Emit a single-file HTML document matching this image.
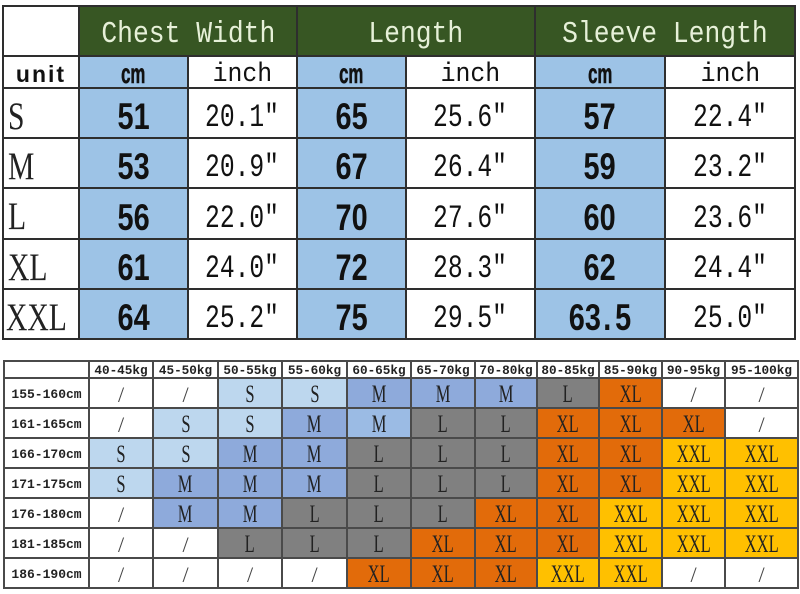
<!DOCTYPE html>
<html><head><meta charset="utf-8">
<style>
html,body{margin:0;padding:0;background:#fff;}
#wrap{position:relative;width:800px;height:594px;overflow:hidden;background:#fff;}
.c{position:absolute;display:flex;align-items:center;justify-content:center;box-sizing:border-box;overflow:visible;white-space:nowrap;}
.l{position:absolute;background:#2e2e2e;}
.b{position:absolute;background:#4a4a4a;}
.s{display:inline-block;}
.hd{font-family:"Liberation Mono",monospace;font-size:31px;color:#e6f0d8;padding-top:6px;}
.hd .s{transform:scaleX(0.85);}
.cm{font-family:"Liberation Sans",sans-serif;font-weight:bold;font-size:28px;color:#111;padding-top:4px;-webkit-text-stroke:0.6px #111;}
.cm .s{transform:scaleX(0.6);}
.in{font-family:"Liberation Mono",monospace;font-size:27px;color:#111;padding-top:6px;}
.in .s{transform:scaleX(0.92);}
.nm{font-family:"Liberation Sans",sans-serif;font-weight:bold;font-size:37px;color:#111;padding-top:8px;}
.nm .s{transform:scaleX(0.78);}
.iv{font-family:"Liberation Mono",monospace;font-size:32px;color:#111;padding-top:9px;}
.iv .s{transform:scaleX(0.77);}
.sz{font-family:"Liberation Serif",serif;font-size:39px;color:#222;justify-content:flex-start;padding-left:5px;padding-top:6px;}
.sz .s{transform:scaleX(0.76);transform-origin:left center;}
.bh{font-family:"Liberation Mono",monospace;font-weight:bold;font-size:12.7px;color:#222;padding-top:1px;}
.rl{font-family:"Liberation Mono",monospace;font-weight:bold;font-size:13px;color:#222;padding-top:2px;}
.cv{font-family:"Liberation Serif",serif;font-size:25px;color:#222;padding-top:4px;}
.cv .s{transform:scaleX(0.66);}
.sl{font-family:"Liberation Serif",serif;font-size:22px;color:#444;padding-top:3px;}
</style></head><body><div id="wrap">

<!-- TOP TABLE backgrounds -->
<div class="c" style="left:79px;top:6px;width:716px;height:50px;background:#375623;"></div>
<div class="c" style="left:79px;top:56px;width:109px;height:283px;background:#9dc3e6;"></div>
<div class="c" style="left:297px;top:56px;width:109px;height:283px;background:#9dc3e6;"></div>
<div class="c" style="left:535px;top:56px;width:130px;height:283px;background:#9dc3e6;"></div>

<!-- header text -->
<div class="c hd" style="left:79px;top:6px;width:218px;height:50px;"><span class="s">Chest Width</span></div>
<div class="c hd" style="left:297px;top:6px;width:238px;height:50px;"><span class="s">Length</span></div>
<div class="c hd" style="left:535px;top:6px;width:260px;height:50px;"><span class="s">Sleeve Length</span></div>

<!-- unit row -->
<div class="c" style="left:3px;top:56px;width:76px;height:32px;font-family:'Liberation Sans',sans-serif;font-weight:bold;font-size:23px;letter-spacing:2px;color:#111;padding-top:4px;">unit</div>
<div class="c cm" style="left:79px;top:56px;width:109px;height:32px;"><span class="s">cm</span></div>
<div class="c in" style="left:188px;top:56px;width:109px;height:32px;"><span class="s">inch</span></div>
<div class="c cm" style="left:297px;top:56px;width:109px;height:32px;"><span class="s">cm</span></div>
<div class="c in" style="left:406px;top:56px;width:129px;height:32px;"><span class="s">inch</span></div>
<div class="c cm" style="left:535px;top:56px;width:130px;height:32px;"><span class="s">cm</span></div>
<div class="c in" style="left:665px;top:56px;width:130px;height:32px;"><span class="s">inch</span></div>

<!-- data rows -->
<div class="c sz" style="left:3px;top:88px;width:76px;height:50px;"><span class="s">S</span></div>
<div class="c nm" style="left:79px;top:88px;width:109px;height:50px;"><span class="s">51</span></div>
<div class="c iv" style="left:188px;top:88px;width:109px;height:50px;"><span class="s">20.1"</span></div>
<div class="c nm" style="left:297px;top:88px;width:109px;height:50px;"><span class="s">65</span></div>
<div class="c iv" style="left:406px;top:88px;width:129px;height:50px;"><span class="s">25.6"</span></div>
<div class="c nm" style="left:535px;top:88px;width:130px;height:50px;"><span class="s">57</span></div>
<div class="c iv" style="left:665px;top:88px;width:130px;height:50px;"><span class="s">22.4"</span></div>

<div class="c sz" style="left:3px;top:138px;width:76px;height:50px;"><span class="s">M</span></div>
<div class="c nm" style="left:79px;top:138px;width:109px;height:50px;"><span class="s">53</span></div>
<div class="c iv" style="left:188px;top:138px;width:109px;height:50px;"><span class="s">20.9"</span></div>
<div class="c nm" style="left:297px;top:138px;width:109px;height:50px;"><span class="s">67</span></div>
<div class="c iv" style="left:406px;top:138px;width:129px;height:50px;"><span class="s">26.4"</span></div>
<div class="c nm" style="left:535px;top:138px;width:130px;height:50px;"><span class="s">59</span></div>
<div class="c iv" style="left:665px;top:138px;width:130px;height:50px;"><span class="s">23.2"</span></div>

<div class="c sz" style="left:3px;top:188px;width:76px;height:51px;"><span class="s">L</span></div>
<div class="c nm" style="left:79px;top:188px;width:109px;height:51px;"><span class="s">56</span></div>
<div class="c iv" style="left:188px;top:188px;width:109px;height:51px;"><span class="s">22.0"</span></div>
<div class="c nm" style="left:297px;top:188px;width:109px;height:51px;"><span class="s">70</span></div>
<div class="c iv" style="left:406px;top:188px;width:129px;height:51px;"><span class="s">27.6"</span></div>
<div class="c nm" style="left:535px;top:188px;width:130px;height:51px;"><span class="s">60</span></div>
<div class="c iv" style="left:665px;top:188px;width:130px;height:51px;"><span class="s">23.6"</span></div>

<div class="c sz" style="left:3px;top:239px;width:76px;height:50px;"><span class="s">XL</span></div>
<div class="c nm" style="left:79px;top:239px;width:109px;height:50px;"><span class="s">61</span></div>
<div class="c iv" style="left:188px;top:239px;width:109px;height:50px;"><span class="s">24.0"</span></div>
<div class="c nm" style="left:297px;top:239px;width:109px;height:50px;"><span class="s">72</span></div>
<div class="c iv" style="left:406px;top:239px;width:129px;height:50px;"><span class="s">28.3"</span></div>
<div class="c nm" style="left:535px;top:239px;width:130px;height:50px;"><span class="s">62</span></div>
<div class="c iv" style="left:665px;top:239px;width:130px;height:50px;"><span class="s">24.4"</span></div>

<div class="c sz" style="left:3px;top:289px;width:76px;height:50px;padding-left:3px;"><span class="s">XXL</span></div>
<div class="c nm" style="left:79px;top:289px;width:109px;height:50px;"><span class="s">64</span></div>
<div class="c iv" style="left:188px;top:289px;width:109px;height:50px;"><span class="s">25.2"</span></div>
<div class="c nm" style="left:297px;top:289px;width:109px;height:50px;"><span class="s">75</span></div>
<div class="c iv" style="left:406px;top:289px;width:129px;height:50px;"><span class="s">29.5"</span></div>
<div class="c nm" style="left:535px;top:289px;width:130px;height:50px;"><span class="s">63<span style="margin:0 5px 0 3px;">.</span>5</span></div>
<div class="c iv" style="left:665px;top:289px;width:130px;height:50px;"><span class="s">25.0"</span></div>

<!-- top grid lines: horizontals -->
<div class="l" style="left:3px;top:5px;width:793px;height:2px;"></div>
<div class="l" style="left:3px;top:55px;width:793px;height:2px;"></div>
<div class="l" style="left:3px;top:87px;width:793px;height:2px;"></div>
<div class="l" style="left:3px;top:137px;width:793px;height:2px;"></div>
<div class="l" style="left:3px;top:187px;width:793px;height:2px;"></div>
<div class="l" style="left:3px;top:238px;width:793px;height:2px;"></div>
<div class="l" style="left:3px;top:288px;width:793px;height:2px;"></div>
<div class="l" style="left:3px;top:338px;width:793px;height:2px;"></div>
<!-- verticals -->
<div class="l" style="left:2px;top:5px;width:2px;height:335px;"></div>
<div class="l" style="left:78px;top:5px;width:2px;height:335px;"></div>
<div class="l" style="left:187px;top:56px;width:2px;height:284px;"></div>
<div class="l" style="left:296px;top:5px;width:2px;height:335px;"></div>
<div class="l" style="left:405px;top:56px;width:2px;height:284px;"></div>
<div class="l" style="left:534px;top:5px;width:2px;height:335px;"></div>
<div class="l" style="left:664px;top:56px;width:2px;height:284px;"></div>
<div class="l" style="left:794px;top:5px;width:2px;height:335px;"></div>

<!-- BOTTOM TABLE -->
<!-- header -->
<div class="c bh" style="left:89px;top:361px;width:64px;height:17px;">40-45kg</div>
<div class="c bh" style="left:153px;top:361px;width:65px;height:17px;">45-50kg</div>
<div class="c bh" style="left:218px;top:361px;width:64px;height:17px;">50-55kg</div>
<div class="c bh" style="left:282px;top:361px;width:65px;height:17px;">55-60kg</div>
<div class="c bh" style="left:347px;top:361px;width:64px;height:17px;">60-65kg</div>
<div class="c bh" style="left:411px;top:361px;width:64px;height:17px;">65-70kg</div>
<div class="c bh" style="left:475px;top:361px;width:62px;height:17px;">70-80kg</div>
<div class="c bh" style="left:537px;top:361px;width:62px;height:17px;">80-85kg</div>
<div class="c bh" style="left:599px;top:361px;width:63px;height:17px;">85-90kg</div>
<div class="c bh" style="left:662px;top:361px;width:63px;height:17px;">90-95kg</div>
<div class="c bh" style="left:725px;top:361px;width:73px;height:17px;">95-100kg</div>

<!-- row labels -->
<div class="c rl" style="left:4px;top:378px;width:85px;height:30px;">155-160cm</div>
<div class="c rl" style="left:4px;top:408px;width:85px;height:30px;">161-165cm</div>
<div class="c rl" style="left:4px;top:438px;width:85px;height:30px;">166-170cm</div>
<div class="c rl" style="left:4px;top:468px;width:85px;height:30px;">171-175cm</div>
<div class="c rl" style="left:4px;top:498px;width:85px;height:30px;">176-180cm</div>
<div class="c rl" style="left:4px;top:528px;width:85px;height:30px;">181-185cm</div>
<div class="c rl" style="left:4px;top:558px;width:85px;height:30px;">186-190cm</div>

<!-- row 155-160 -->
<div class="c sl" style="left:89px;top:378px;width:64px;height:30px;">/</div>
<div class="c sl" style="left:153px;top:378px;width:65px;height:30px;">/</div>
<div class="c cv" style="left:218px;top:378px;width:64px;height:30px;background:#bdd7ee;"><span class="s">S</span></div>
<div class="c cv" style="left:282px;top:378px;width:65px;height:30px;background:#bdd7ee;"><span class="s">S</span></div>
<div class="c cv" style="left:347px;top:378px;width:64px;height:30px;background:#8eaadb;"><span class="s">M</span></div>
<div class="c cv" style="left:411px;top:378px;width:64px;height:30px;background:#8eaadb;"><span class="s">M</span></div>
<div class="c cv" style="left:475px;top:378px;width:62px;height:30px;background:#8eaadb;"><span class="s">M</span></div>
<div class="c cv" style="left:537px;top:378px;width:62px;height:30px;background:#808080;"><span class="s">L</span></div>
<div class="c cv" style="left:599px;top:378px;width:63px;height:30px;background:#e26b0a;"><span class="s">XL</span></div>
<div class="c sl" style="left:662px;top:378px;width:63px;height:30px;">/</div>
<div class="c sl" style="left:725px;top:378px;width:73px;height:30px;">/</div>

<!-- row 161-165 -->
<div class="c sl" style="left:89px;top:408px;width:64px;height:30px;">/</div>
<div class="c cv" style="left:153px;top:408px;width:65px;height:30px;background:#bdd7ee;"><span class="s">S</span></div>
<div class="c cv" style="left:218px;top:408px;width:64px;height:30px;background:#bdd7ee;"><span class="s">S</span></div>
<div class="c cv" style="left:282px;top:408px;width:65px;height:30px;background:#8eaadb;"><span class="s">M</span></div>
<div class="c cv" style="left:347px;top:408px;width:64px;height:30px;background:#9bbbe4;"><span class="s">M</span></div>
<div class="c cv" style="left:411px;top:408px;width:64px;height:30px;background:#808080;"><span class="s">L</span></div>
<div class="c cv" style="left:475px;top:408px;width:62px;height:30px;background:#808080;"><span class="s">L</span></div>
<div class="c cv" style="left:537px;top:408px;width:62px;height:30px;background:#e26b0a;"><span class="s">XL</span></div>
<div class="c cv" style="left:599px;top:408px;width:63px;height:30px;background:#e26b0a;"><span class="s">XL</span></div>
<div class="c cv" style="left:662px;top:408px;width:63px;height:30px;background:#e26b0a;"><span class="s">XL</span></div>
<div class="c sl" style="left:725px;top:408px;width:73px;height:30px;">/</div>

<!-- row 166-170 -->
<div class="c cv" style="left:89px;top:438px;width:64px;height:30px;background:#bdd7ee;"><span class="s">S</span></div>
<div class="c cv" style="left:153px;top:438px;width:65px;height:30px;background:#bdd7ee;"><span class="s">S</span></div>
<div class="c cv" style="left:218px;top:438px;width:64px;height:30px;background:#8eaadb;"><span class="s">M</span></div>
<div class="c cv" style="left:282px;top:438px;width:65px;height:30px;background:#8eaadb;"><span class="s">M</span></div>
<div class="c cv" style="left:347px;top:438px;width:64px;height:30px;background:#808080;"><span class="s">L</span></div>
<div class="c cv" style="left:411px;top:438px;width:64px;height:30px;background:#808080;"><span class="s">L</span></div>
<div class="c cv" style="left:475px;top:438px;width:62px;height:30px;background:#808080;"><span class="s">L</span></div>
<div class="c cv" style="left:537px;top:438px;width:62px;height:30px;background:#e26b0a;"><span class="s">XL</span></div>
<div class="c cv" style="left:599px;top:438px;width:63px;height:30px;background:#e26b0a;"><span class="s">XL</span></div>
<div class="c cv" style="left:662px;top:438px;width:63px;height:30px;background:#ffc000;"><span class="s">XXL</span></div>
<div class="c cv" style="left:725px;top:438px;width:73px;height:30px;background:#ffc000;"><span class="s">XXL</span></div>

<!-- row 171-175 -->
<div class="c cv" style="left:89px;top:468px;width:64px;height:30px;background:#bdd7ee;"><span class="s">S</span></div>
<div class="c cv" style="left:153px;top:468px;width:65px;height:30px;background:#8eaadb;"><span class="s">M</span></div>
<div class="c cv" style="left:218px;top:468px;width:64px;height:30px;background:#8eaadb;"><span class="s">M</span></div>
<div class="c cv" style="left:282px;top:468px;width:65px;height:30px;background:#8eaadb;"><span class="s">M</span></div>
<div class="c cv" style="left:347px;top:468px;width:64px;height:30px;background:#808080;"><span class="s">L</span></div>
<div class="c cv" style="left:411px;top:468px;width:64px;height:30px;background:#808080;"><span class="s">L</span></div>
<div class="c cv" style="left:475px;top:468px;width:62px;height:30px;background:#808080;"><span class="s">L</span></div>
<div class="c cv" style="left:537px;top:468px;width:62px;height:30px;background:#e26b0a;"><span class="s">XL</span></div>
<div class="c cv" style="left:599px;top:468px;width:63px;height:30px;background:#e26b0a;"><span class="s">XL</span></div>
<div class="c cv" style="left:662px;top:468px;width:63px;height:30px;background:#ffc000;"><span class="s">XXL</span></div>
<div class="c cv" style="left:725px;top:468px;width:73px;height:30px;background:#ffc000;"><span class="s">XXL</span></div>

<!-- row 176-180 -->
<div class="c sl" style="left:89px;top:498px;width:64px;height:30px;">/</div>
<div class="c cv" style="left:153px;top:498px;width:65px;height:30px;background:#8eaadb;"><span class="s">M</span></div>
<div class="c cv" style="left:218px;top:498px;width:64px;height:30px;background:#8eaadb;"><span class="s">M</span></div>
<div class="c cv" style="left:282px;top:498px;width:65px;height:30px;background:#808080;"><span class="s">L</span></div>
<div class="c cv" style="left:347px;top:498px;width:64px;height:30px;background:#808080;"><span class="s">L</span></div>
<div class="c cv" style="left:411px;top:498px;width:64px;height:30px;background:#808080;"><span class="s">L</span></div>
<div class="c cv" style="left:475px;top:498px;width:62px;height:30px;background:#e26b0a;"><span class="s">XL</span></div>
<div class="c cv" style="left:537px;top:498px;width:62px;height:30px;background:#e26b0a;"><span class="s">XL</span></div>
<div class="c cv" style="left:599px;top:498px;width:63px;height:30px;background:#ffc000;"><span class="s">XXL</span></div>
<div class="c cv" style="left:662px;top:498px;width:63px;height:30px;background:#ffc000;"><span class="s">XXL</span></div>
<div class="c cv" style="left:725px;top:498px;width:73px;height:30px;background:#ffc000;"><span class="s">XXL</span></div>

<!-- row 181-185 -->
<div class="c sl" style="left:89px;top:528px;width:64px;height:30px;">/</div>
<div class="c sl" style="left:153px;top:528px;width:65px;height:30px;">/</div>
<div class="c cv" style="left:218px;top:528px;width:64px;height:30px;background:#808080;"><span class="s">L</span></div>
<div class="c cv" style="left:282px;top:528px;width:65px;height:30px;background:#808080;"><span class="s">L</span></div>
<div class="c cv" style="left:347px;top:528px;width:64px;height:30px;background:#808080;"><span class="s">L</span></div>
<div class="c cv" style="left:411px;top:528px;width:64px;height:30px;background:#e26b0a;"><span class="s">XL</span></div>
<div class="c cv" style="left:475px;top:528px;width:62px;height:30px;background:#e26b0a;"><span class="s">XL</span></div>
<div class="c cv" style="left:537px;top:528px;width:62px;height:30px;background:#e26b0a;"><span class="s">XL</span></div>
<div class="c cv" style="left:599px;top:528px;width:63px;height:30px;background:#ffc000;"><span class="s">XXL</span></div>
<div class="c cv" style="left:662px;top:528px;width:63px;height:30px;background:#ffc000;"><span class="s">XXL</span></div>
<div class="c cv" style="left:725px;top:528px;width:73px;height:30px;background:#ffc000;"><span class="s">XXL</span></div>

<!-- row 186-190 -->
<div class="c sl" style="left:89px;top:558px;width:64px;height:30px;">/</div>
<div class="c sl" style="left:153px;top:558px;width:65px;height:30px;">/</div>
<div class="c sl" style="left:218px;top:558px;width:64px;height:30px;">/</div>
<div class="c sl" style="left:282px;top:558px;width:65px;height:30px;">/</div>
<div class="c cv" style="left:347px;top:558px;width:64px;height:30px;background:#e26b0a;"><span class="s">XL</span></div>
<div class="c cv" style="left:411px;top:558px;width:64px;height:30px;background:#e26b0a;"><span class="s">XL</span></div>
<div class="c cv" style="left:475px;top:558px;width:62px;height:30px;background:#e26b0a;"><span class="s">XL</span></div>
<div class="c cv" style="left:537px;top:558px;width:62px;height:30px;background:#ffc000;"><span class="s">XXL</span></div>
<div class="c cv" style="left:599px;top:558px;width:63px;height:30px;background:#ffc000;"><span class="s">XXL</span></div>
<div class="c sl" style="left:662px;top:558px;width:63px;height:30px;">/</div>
<div class="c sl" style="left:725px;top:558px;width:73px;height:30px;">/</div>

<!-- bottom grid horizontals -->
<div class="b" style="left:4px;top:360px;width:795px;height:2px;"></div>
<div class="b" style="left:4px;top:377px;width:795px;height:2px;"></div>
<div class="b" style="left:4px;top:407px;width:795px;height:2px;"></div>
<div class="b" style="left:4px;top:437px;width:795px;height:2px;"></div>
<div class="b" style="left:4px;top:467px;width:795px;height:2px;"></div>
<div class="b" style="left:4px;top:497px;width:795px;height:2px;"></div>
<div class="b" style="left:4px;top:527px;width:795px;height:2px;"></div>
<div class="b" style="left:4px;top:557px;width:795px;height:2px;"></div>
<div class="b" style="left:4px;top:587px;width:795px;height:2px;"></div>
<!-- bottom grid verticals -->
<div class="b" style="left:3px;top:360px;width:2px;height:229px;"></div>
<div class="b" style="left:88px;top:360px;width:2px;height:229px;"></div>
<div class="b" style="left:152px;top:360px;width:2px;height:229px;"></div>
<div class="b" style="left:217px;top:360px;width:2px;height:229px;"></div>
<div class="b" style="left:281px;top:360px;width:2px;height:229px;"></div>
<div class="b" style="left:346px;top:360px;width:2px;height:229px;"></div>
<div class="b" style="left:410px;top:360px;width:2px;height:229px;"></div>
<div class="b" style="left:474px;top:360px;width:2px;height:229px;"></div>
<div class="b" style="left:536px;top:360px;width:2px;height:229px;"></div>
<div class="b" style="left:598px;top:360px;width:2px;height:229px;"></div>
<div class="b" style="left:661px;top:360px;width:2px;height:229px;"></div>
<div class="b" style="left:724px;top:360px;width:2px;height:229px;"></div>
<div class="b" style="left:797px;top:360px;width:2px;height:229px;"></div>

</div></body></html>
